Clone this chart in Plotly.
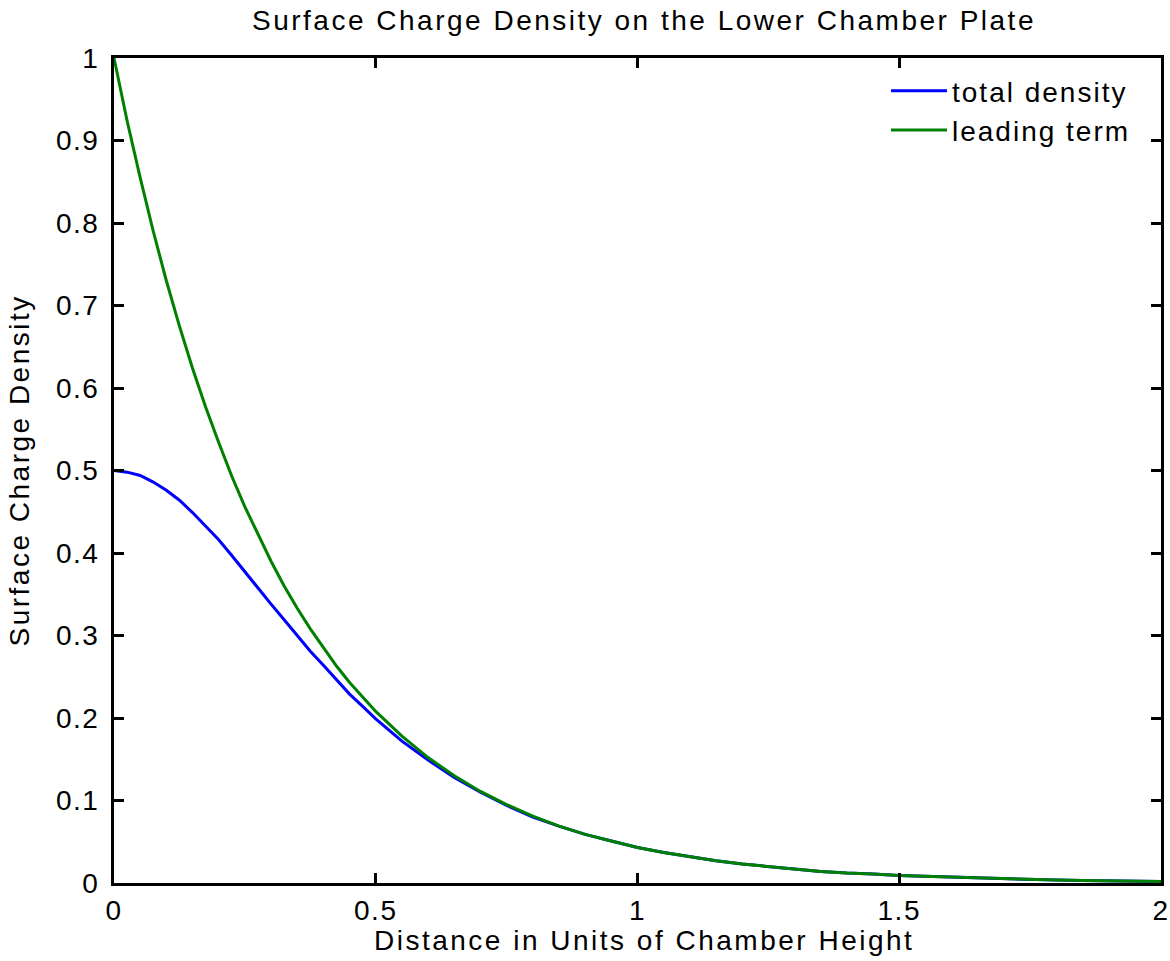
import plotly.graph_objects as go

# Data
x_vals = [0.0, 0.025, 0.05, 0.075, 0.1, 0.125, 0.15, 0.175, 0.2, 0.225, 0.25, 0.275, 0.3, 0.325,
          0.35, 0.375, 0.4, 0.425, 0.45, 0.475, 0.5, 0.55, 0.6, 0.65, 0.7, 0.75, 0.8, 0.85, 0.9,
          0.95, 1.0, 1.05, 1.1, 1.15, 1.2, 1.25, 1.3, 1.35, 1.4, 1.45, 1.5, 1.55, 1.6, 1.65, 1.7,
          1.75, 1.8, 1.85, 1.9, 1.95, 2.0]
total_density = [0.500, 0.498, 0.494, 0.486, 0.476, 0.464, 0.449, 0.433, 0.416, 0.397, 0.377,
                 0.358, 0.338, 0.319, 0.300, 0.281, 0.264, 0.246, 0.229, 0.214, 0.199, 0.172,
                 0.149, 0.128, 0.110, 0.094, 0.080, 0.069, 0.059, 0.051, 0.043, 0.037, 0.032,
                 0.027, 0.023, 0.020, 0.017, 0.014, 0.012, 0.011, 0.009, 0.008, 0.0066, 0.0056,
                 0.0048, 0.0041, 0.0035, 0.0030, 0.0026, 0.0022, 0.0019]
leading_term = [1.000, 0.924, 0.855, 0.790, 0.730, 0.675, 0.624, 0.577, 0.534, 0.493, 0.456,
                0.422, 0.390, 0.360, 0.333, 0.308, 0.285, 0.263, 0.243, 0.225, 0.208, 0.178,
                0.152, 0.130, 0.111, 0.095, 0.081, 0.069, 0.059, 0.051, 0.043, 0.037, 0.032,
                0.027, 0.023, 0.020, 0.017, 0.014, 0.012, 0.011, 0.009, 0.008, 0.0066, 0.0056,
                0.0048, 0.0041, 0.0035, 0.0030, 0.0026, 0.0022, 0.0019]
series_names = ["total density", "leading term"]
x_ticks = [0, 0.5, 1, 1.5, 2]
x_tick_labels = ["0", "0.5", "1", "1.5", "2"]
y_ticks = [0, 0.1, 0.2, 0.3, 0.4, 0.5, 0.6, 0.7, 0.8, 0.9, 1]
y_tick_labels = ["0", "0.1", "0.2", "0.3", "0.4", "0.5", "0.6", "0.7", "0.8", "0.9", "1"]
title_text = "Surface Charge Density on the Lower Chamber Plate"
x_title = "Distance in Units of Chamber Height"
y_title = "Surface Charge Density"

FONT = "Liberation Sans, Arial, Helvetica, sans-serif"
FS = 28


def sp(t, ls=2.5):
    return f'<span style="letter-spacing:{ls}px">{t}</span>'


fig = go.Figure()
fig.add_trace(go.Scatter(x=x_vals, y=total_density, mode="lines", name=sp(series_names[0], 2),
                         line=dict(color="#0000FF", width=3)))
fig.add_trace(go.Scatter(x=x_vals, y=leading_term, mode="lines", name=sp(series_names[1], 2),
                         line=dict(color="#008000", width=3)))

L, R, T, B = 114, 9, 58, 78
W, H = 1170, 961
pw = W - L - R
ph = H - T - B

axis_common = dict(showline=True, linewidth=3, linecolor="black", mirror="ticks",
                   ticks="inside", ticklen=10, tickwidth=2.5, tickcolor="black",
                   showgrid=False, zeroline=False, automargin=False,
                   tickfont=dict(family=FONT, size=FS, color="black"))

fig.update_layout(
    width=W, height=H,
    margin=dict(l=L, r=R, t=T, b=B, autoexpand=False),
    paper_bgcolor="white", plot_bgcolor="white",
    font=dict(family=FONT, size=FS, color="black"),
    title=dict(text=sp(title_text), x=(644 - L) / pw, xref="paper", xanchor="center",
               y=1 - 20 / H, yref="container", yanchor="middle",
               font=dict(family=FONT, size=FS, color="black")),
    xaxis=dict(range=[0, 2], tickvals=x_ticks, ticktext=[sp(t, 1.5) for t in x_tick_labels],
               ticklabelstandoff=0, **axis_common),
    yaxis=dict(range=[0, 1], tickvals=y_ticks, ticktext=[sp(t, 1.5) for t in y_tick_labels],
               ticklabelstandoff=6, **axis_common),
    legend=dict(x=(886 - L) / pw, xanchor="left", y=1 - (66 - T) / ph, yanchor="top",
                bgcolor="rgba(255,255,255,0)", borderwidth=0, itemwidth=56,
                font=dict(family=FONT, size=FS, color="black")),
    showlegend=True,
)

fig.add_annotation(text=sp(x_title), xref="paper", yref="paper",
                   x=(644 - L) / pw, y=-(940 - (H - B)) / ph, xanchor="center", yanchor="middle",
                   showarrow=False, font=dict(family=FONT, size=FS, color="black"))
fig.add_annotation(text=sp(y_title), xref="paper", yref="paper",
                   x=(19 - L) / pw, y=0.5, xanchor="center", yanchor="middle", textangle=-90,
                   showarrow=False, font=dict(family=FONT, size=FS, color="black"))

fig.write_html("out.html", config={"displayModeBar": False},
               post_script="document.body.style.margin='0';")
